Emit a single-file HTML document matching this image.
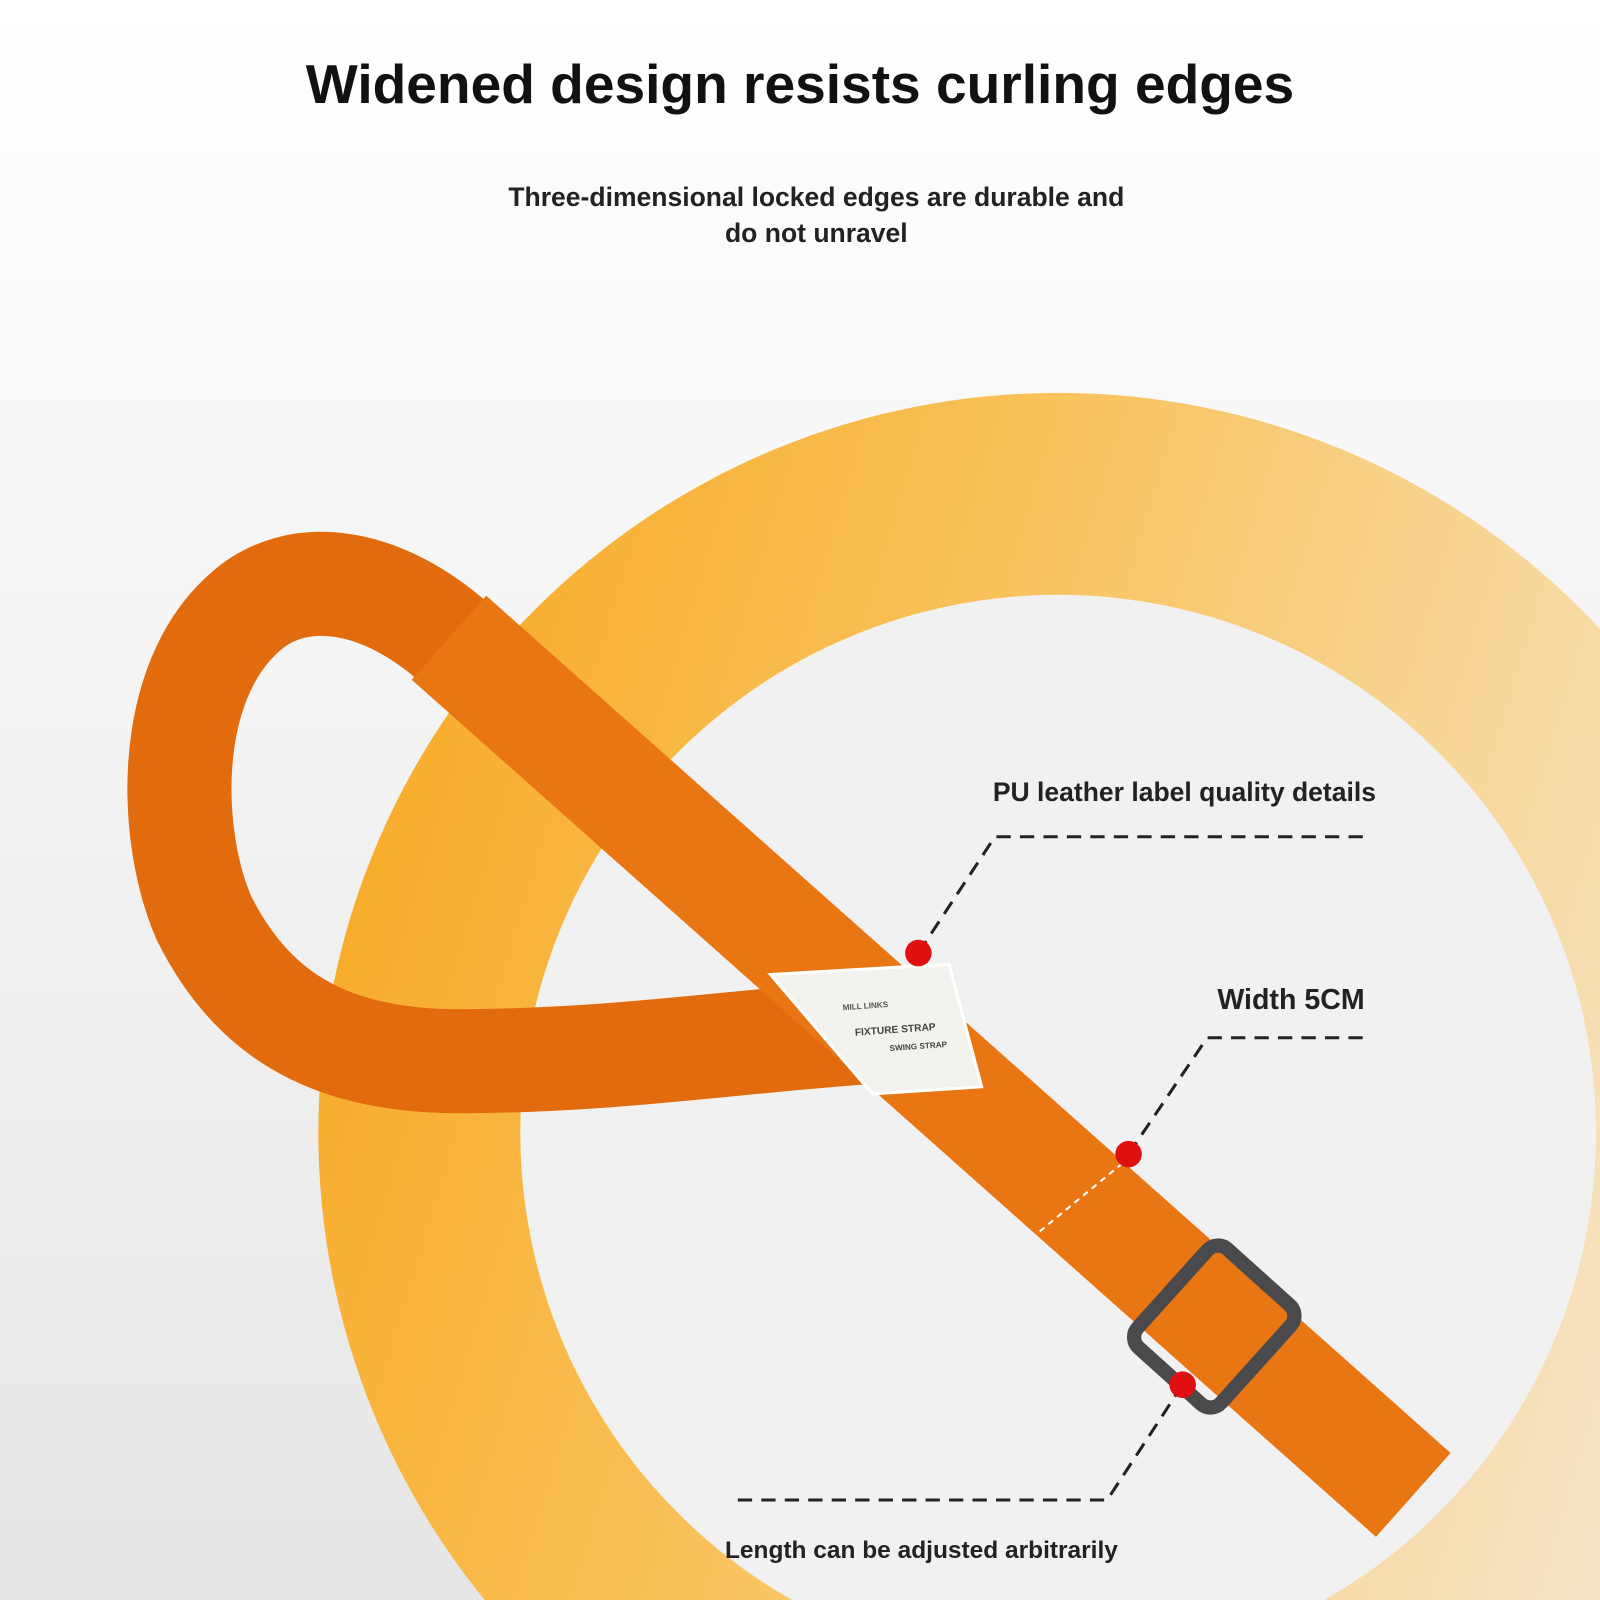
<!DOCTYPE html>
<html><head><meta charset="utf-8"><style>
html,body{margin:0;padding:0;width:1600px;height:1600px;overflow:hidden;background:#fff}
svg{display:block}
text{font-family:"Liberation Sans",sans-serif;font-weight:bold}
</style></head><body>
<svg width="1600" height="1600" viewBox="0 0 1568 1568" xmlns="http://www.w3.org/2000/svg">
<defs>
<linearGradient id="bg" x1="0" y1="0" x2="0" y2="1">
<stop offset="0" stop-color="#ffffff"/><stop offset="0.35" stop-color="#f6f6f6"/><stop offset="1" stop-color="#e6e6e6"/>
</linearGradient>
<linearGradient id="ring" x1="0" y1="0" x2="1" y2="0.3">
<stop offset="0" stop-color="#f7a51c"/><stop offset="0.45" stop-color="#f9c25a"/><stop offset="1" stop-color="#f6e4c4"/>
</linearGradient>
<mask id="rm"><rect width="1568" height="1568" fill="#fff"/><circle cx="1037" cy="1110" r="527" fill="#000"/></mask>
</defs>
<rect width="1568" height="1568" fill="url(#bg)"/>
<circle cx="1037" cy="1110" r="725" fill="url(#ring)" mask="url(#rm)"/>
<circle cx="1037" cy="1110" r="527" fill="#f1f1f1"/>

<path d="M442,627 C370,565 290,555 240,600 C160,670 165,820 200,900 C250,1000 330,1040 450,1040 C600,1040 720,1020 870,1010" fill="none" stroke="#e26c0d" stroke-width="102"/>
<path d="M440,625 L1385,1465" fill="none" stroke="#e97613" stroke-width="110"/>
<polygon points="755,955 930,945 962,1065 855,1072" fill="#f4f2ee" stroke="#fff" stroke-width="3"/>
<text x="826" y="990" font-size="8" fill="#555" transform="rotate(-4 826 990)">MILL LINKS</text>
<text x="838" y="1015" font-size="10" fill="#444" transform="rotate(-4 838 1015)">FIXTURE STRAP</text>
<text x="872" y="1030" font-size="8" fill="#444" transform="rotate(-4 872 1030)">SWING STRAP</text>
<g transform="rotate(-48 1190 1300)">
<rect x="1125" y="1245" width="130" height="110" rx="14" fill="none" stroke="#4a4a4c" stroke-width="14"/>
</g>
<path d="M1100,1140 L1015,1210" stroke="#fff" stroke-width="2" stroke-dasharray="6,5" fill="none"/>

<g fill="none" stroke="#222" stroke-width="3" stroke-dasharray="14,9">
<path d="M900,934 L975,820 L1340,820"/>
<path d="M1106,1131 L1183,1017 L1340,1017"/>
<path d="M1159,1357 L1085,1470 L720,1470"/>
</g>
<circle cx="900" cy="934" r="13" fill="#e01010"/>
<circle cx="1106" cy="1131" r="13" fill="#e01010"/>
<circle cx="1159" cy="1357" r="13" fill="#e01010"/>

<text x="784" y="101" font-size="54" fill="#111" text-anchor="middle">Widened design resists curling edges</text>
<text x="800" y="202" font-size="26" fill="#222" text-anchor="middle">Three-dimensional locked edges are durable and</text>
<text x="800" y="237" font-size="26" fill="#222" text-anchor="middle">do not unravel</text>
<text x="973" y="785" font-size="26" fill="#222">PU leather label quality details</text>
<text x="1193" y="989" font-size="28" fill="#222">Width 5CM</text>
<text x="903" y="1527" font-size="24" fill="#222" text-anchor="middle">Length can be adjusted arbitrarily</text>
</svg>
</body></html>
